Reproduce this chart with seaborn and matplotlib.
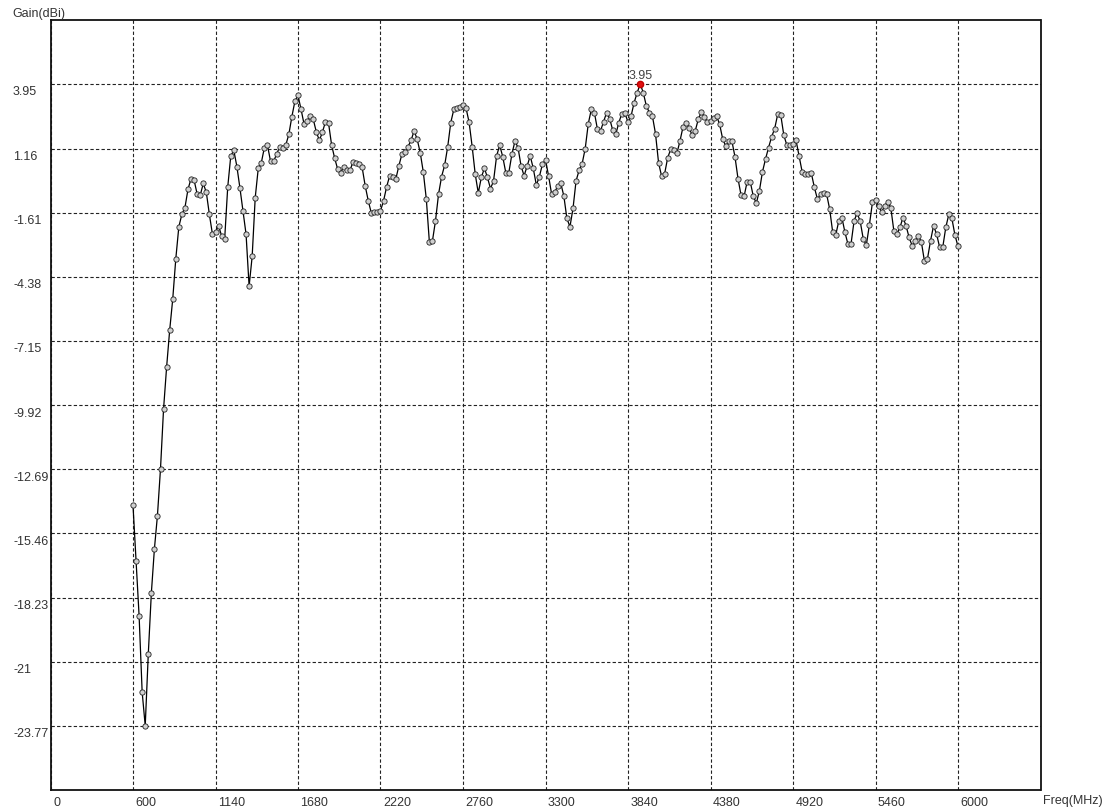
import numpy as np
import pandas as pd
import matplotlib
matplotlib.use("Agg")
import matplotlib.pyplot as plt
from matplotlib.transforms import ScaledTranslation
import seaborn as sns

# ---------------- data ----------------
# sweep: 600 MHz .. 6000 MHz, one sample every 20 MHz
freq_start_mhz = 600
freq_stop_mhz = 6000
freq_step_mhz = 20

gain_dbi = [
    # 600 - 780
    -14.25, -16.66, -19.03, -22.32, -23.77, -20.68, -18.05, -16.14, -14.69, -12.67,
    # 800 - 980
    -10.09, -8.28, -6.69, -5.35, -3.61, -2.22, -1.68, -1.39, -0.60, -0.14,
    # 1000 - 1180
    -0.21, -0.81, -0.86, -0.35, -0.74, -1.69, -2.54, -2.44, -2.18, -2.61,
    # 1200 - 1380
    -2.75, -0.51, 0.84, 1.08, 0.38, -0.55, -1.53, -2.54, -4.79, -3.50,
    # 1400 - 1580
    -0.96, 0.31, 0.55, 1.20, 1.30, 0.62, 0.61, 0.91, 1.24, 1.20,
    # 1600 - 1780
    1.31, 1.77, 2.54, 3.21, 3.45, 2.85, 2.20, 2.35, 2.56, 2.42,
    # 1800 - 1980
    1.87, 1.51, 1.87, 2.32, 2.25, 1.31, 0.74, 0.26, 0.12, 0.38,
    # 2000 - 2180
    0.23, 0.21, 0.58, 0.54, 0.47, 0.34, -0.46, -1.10, -1.63, -1.58,
    # 2200 - 2380
    -1.60, -1.53, -1.10, -0.50, -0.02, -0.05, -0.17, 0.41, 0.91, 1.01,
    # 2400 - 2580
    1.24, 1.51, 1.92, 1.56, 0.98, 0.15, -1.03, -2.89, -2.83, -1.96,
    # 2600 - 2780
    -0.81, -0.05, 0.44, 1.24, 2.28, 2.85, 2.92, 2.97, 3.02, 2.90,
    # 2800 - 2980
    2.29, 1.24, 0.05, -0.76, -0.09, 0.31, -0.09, -0.57, -0.24, 0.84,
    # 3000 - 3180
    1.30, 0.81, 0.12, 0.12, 0.91, 1.48, 1.20, 0.41, -0.02, 0.41,
    # 3200 - 3380
    0.84, 0.30, -0.42, -0.05, 0.48, 0.67, -0.02, -0.81, -0.73, -0.46,
    # 3400 - 3580
    -0.34, -0.89, -1.86, -2.22, -1.43, -0.24, 0.22, 0.51, 1.16, 2.23,
    # 3600 - 3780
    2.85, 2.71, 1.99, 1.92, 2.32, 2.71, 2.45, 1.95, 1.77, 2.28,
    # 3800 - 3980
    2.67, 2.68, 2.30, 2.56, 3.14, 3.57, 3.95, 3.57, 3.00, 2.71,
    # 4000 - 4180
    2.55, 1.80, 0.55, -0.04, 0.08, 0.77, 1.13, 1.10, 0.95, 1.48,
    # 4200 - 4380
    2.09, 2.28, 2.06, 1.73, 1.92, 2.42, 2.73, 2.54, 2.30, 2.35,
    # 4400 - 4580
    2.49, 2.56, 2.20, 1.56, 1.27, 1.48, 1.48, 0.81, -0.14, -0.86,
    # 4600 - 4780
    -0.90, -0.27, -0.27, -0.90, -1.20, -0.67, 0.15, 0.70, 1.20, 1.66,
    # 4800 - 4980
    2.02, 2.64, 2.60, 1.73, 1.30, 1.30, 1.34, 1.51, 0.84, 0.15,
    # 5000 - 5180
    0.05, 0.05, 0.09, -0.52, -1.03, -0.81, -0.78, -0.81, -1.46, -2.46,
    # 5200 - 5380
    -2.57, -1.96, -1.82, -2.46, -2.98, -2.95, -1.96, -1.63, -1.99, -2.75,
    # 5400 - 5580
    -3.01, -2.14, -1.17, -1.06, -1.32, -1.58, -1.32, -1.14, -1.39, -2.39,
    # 5600 - 5780
    -2.54, -2.25, -1.82, -2.18, -2.68, -3.04, -2.83, -2.61, -2.87, -3.69,
    # 5800 - 5980
    -3.61, -2.83, -2.18, -2.54, -3.11, -3.11, -2.25, -1.68, -1.86, -2.58,
    # 6000
    -3.07,
]

freq_mhz = list(range(freq_start_mhz, freq_stop_mhz + 1, freq_step_mhz))

x_tick_values = [60, 600, 1140, 1680, 2220, 2760, 3300, 3840, 4380, 4920, 5460, 6000]
x_tick_labels = ["0", "600", "1140", "1680", "2220", "2760", "3300", "3840",
                 "4380", "4920", "5460", "6000"]
y_tick_labels = ["-23.77", "-21", "-18.23", "-15.46", "-12.69", "-9.92",
                 "-7.15", "-4.38", "-1.61", "1.16", "3.95"]
y_tick_values = [float(s) for s in y_tick_labels]

marker_label = "3.95"

df = pd.DataFrame({"Freq(MHz)": freq_mhz, "Gain(dBi)": gain_dbi})

# ---------------- figure ----------------
sns.set_style("white")
plt.rcParams["font.family"] = ["Liberation Sans", "DejaVu Sans"]

W, H = 1112, 812
fig = plt.figure(figsize=(W / 100, H / 100), dpi=100)
ax_l, ax_r, ax_t, ax_b = 50.5, 1040.5, 20.7, 791.0
ax = fig.add_axes([ax_l / W, 1 - ax_b / H, (ax_r - ax_l) / W, (ax_b - ax_t) / H])

sns.lineplot(data=df, x="Freq(MHz)", y="Gain(dBi)", ax=ax, color="black",
             linewidth=0.9, marker="o", markersize=3.8,
             markerfacecolor="#cfcfcf", markeredgecolor="#222222",
             markeredgewidth=0.6, zorder=3)

# peak marker
imax = int(np.argmax(gain_dbi))
ax.plot(freq_mhz[imax], gain_dbi[imax], "o", color="#e01010", markersize=4.5,
        markeredgecolor="#c00000", zorder=5)
ax.annotate(marker_label, (freq_mhz[imax], gain_dbi[imax]), xytext=(0, 2),
            textcoords="offset points", ha="center", va="bottom",
            fontsize=9, color="#444444", zorder=6)

ax.set_xlim(60, 6540)
ax.set_ylim(-26.542, 6.722)

ax.set_xticks(x_tick_values)
ax.set_xticklabels(x_tick_labels)
ax.set_yticks(y_tick_values)
ax.set_yticklabels(y_tick_labels)

ax.tick_params(axis="both", length=0, labelsize=9, labelcolor="#333333")
ax.tick_params(axis="x", pad=4.5)
ax.tick_params(axis="y", pad=27)

for lab in ax.get_xticklabels():
    lab.set_horizontalalignment("left")
    lab.set_transform(lab.get_transform() + ScaledTranslation(2.5 / 100, 0, fig.dpi_scale_trans))
for lab in ax.get_yticklabels():
    lab.set_horizontalalignment("left")
    lab.set_transform(lab.get_transform() + ScaledTranslation(0, -6 / 100, fig.dpi_scale_trans))

ax.set_xlabel("")
ax.set_ylabel("")

ax.grid(True, color="#222222", linestyle=(0, (3, 2)), linewidth=0.8)
ax.set_axisbelow(True)
for sp in ax.spines.values():
    sp.set_color("#111111")
    sp.set_linewidth(1.3)
    sp.set_visible(True)

fig.text(12 / W, 1 - 14 / H, "Gain(dBi)", fontsize=9, color="#333333",
         ha="left", va="center")
fig.text(1043 / W, 1 - 801 / H, "Freq(MHz)", fontsize=9, color="#333333",
         ha="left", va="center")

fig.savefig("out.png", dpi=100, facecolor="white")
